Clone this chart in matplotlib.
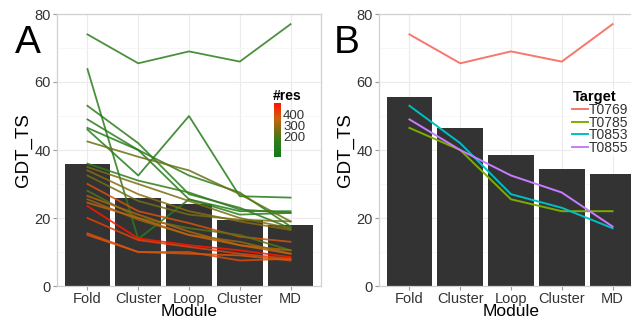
import numpy as np
import matplotlib
matplotlib.use("Agg")
import matplotlib.pyplot as plt
from matplotlib.colors import LinearSegmentedColormap, Normalize
from matplotlib.lines import Line2D

plt.rcParams['font.family'] = ['Liberation Sans', 'DejaVu Sans']

modules = ['Fold', 'Cluster', 'Loop', 'Cluster', 'MD']

# panel A: mean bar + one line per target, coloured by number of residues
bars_a = [36, 26, 24, 19.5, 18]
res_a = [150, 140, 160, 120, 110, 130, 240, 170, 260, 280,
         250, 390, 210, 330, 290, 350, 490, 420, 400, 380]
gdt_a = [
    [74, 65.5, 69, 66, 77],
    [53, 42, 27, 23, 17],
    [49, 40, 32.5, 27.5, 17.5],
    [46.5, 40, 25.5, 22, 22],
    [46, 32.5, 50, 26.4, 26],
    [63.8, 13.8, 25.5, 21, 21.5],
    [42.5, 38, 34, 27, 19],
    [36, 31, 27.5, 22.5, 21.5],
    [35, 30, 25, 20, 17],
    [34, 27, 22, 19, 16.5],
    [32.5, 25, 21, 19.5, 19],
    [30, 22, 18.5, 14.5, 13],
    [28, 20, 17, 15, 10.5],
    [26.5, 21, 16, 12, 10.5],
    [25.5, 19.5, 15, 13, 9.5],
    [24.5, 20, 15, 12, 9.5],
    [23.5, 14, 12, 10.5, 8.5],
    [20, 13.5, 11.5, 9.5, 8],
    [15.5, 10, 10, 7.5, 8],
    [15, 10, 9.5, 9, 7.5],
]

# panel B: four targets
bars_b = [55.5, 46.5, 38.5, 34.5, 33]
targets = ['T0769', 'T0785', 'T0853', 'T0855']
gdt_b = [
    [74, 65.5, 69, 66, 77],
    [46.5, 40, 25.5, 22, 22],
    [53, 42, 27, 23, 17],
    [49, 40, 32.5, 27.5, 17.5],
]
target_colors = ['#F8766D', '#7CAE00', '#00BFC4', '#C77CFF']

cmap = LinearSegmentedColormap.from_list(
    'res', [(0.0, '#137a1a'), (0.3, '#2f7d1c'), (0.5, '#7a6d14'),
            (0.72, '#d0600e'), (1.0, '#ff1400')])
norm = Normalize(vmin=20, vmax=500)

W, H = 631, 321
fig = plt.figure(figsize=(W / 100, H / 100), dpi=100)


def style_panel(ax):
    x = np.arange(len(modules))
    ax.set_xlim(-0.6, 4.6)
    ax.set_ylim(0, 80)
    ax.set_xticks(x)
    ax.set_xticklabels(modules)
    ax.set_yticks([0, 20, 40, 60, 80])
    ax.set_yticks([10, 30, 50, 70], minor=True)
    ax.tick_params(axis='y', which='minor', length=0)
    ax.tick_params(which='major', length=3, color='#999999', labelsize=10.5,
                   labelcolor='#333333', pad=1.5)
    ax.tick_params(axis='x', pad=1)
    ax.grid(True, which='major', color='#ebebeb', lw=0.8)
    ax.grid(True, which='minor', axis='y', color='#f4f4f4', lw=0.5)
    ax.set_axisbelow(True)
    for s in ax.spines.values():
        s.set_color('#d0d0d0')
        s.set_linewidth(0.9)
    ax.set_xlabel('Module', fontsize=12.5, labelpad=-1)
    ax.set_ylabel('GDT_TS', fontsize=13.5, labelpad=2)


axA = fig.add_axes([57 / W, 1 - 286 / H, 264 / W, 272 / H])
style_panel(axA)
xs = np.arange(len(modules))
axA.bar(xs, bars_a, width=0.9, color='#333333', zorder=2)
for r, vals in zip(res_a, gdt_a):
    axA.plot(xs, vals, color=cmap(norm(r)), lw=1.3, alpha=0.85, zorder=3)

axB = fig.add_axes([379 / W, 1 - 286 / H, 264 / W, 272 / H])
style_panel(axB)
axB.bar(xs, bars_b, width=0.9, color='#333333', zorder=2)
for vals, c in zip(gdt_b, target_colors):
    axB.plot(xs, vals, color=c, lw=1.4, zorder=3)

# colour bar for #res
cax = fig.add_axes([274 / W, 1 - 157 / H, 7 / W, 54 / H])
grad = np.linspace(norm.vmin, norm.vmax, 200).reshape(-1, 1)
cax.imshow(grad, cmap=cmap, norm=norm, aspect='auto', origin='lower',
           extent=[0, 1, norm.vmin, norm.vmax])
cax.set_xticks([])
cax.yaxis.tick_right()
cax.set_yticks([200, 300, 400])
cax.tick_params(axis='y', length=0, labelsize=9.5, labelcolor='#333333', pad=1.5)
for s in cax.spines.values():
    s.set_visible(False)
fig.text(273 / W, 1 - 96 / H, '#res', fontsize=10, fontweight='bold', va='center')

# legend for targets
handles = [Line2D([], [], color=c, lw=1.4) for c in target_colors]
leg = axB.legend(handles, targets, title='Target', loc='upper left',
                 bbox_to_anchor=(571 / W, 1 - 89 / H), bbox_transform=fig.transFigure,
                 fontsize=10, handlelength=1.1, handletextpad=0.1, labelspacing=-0.1,
                 borderpad=0.1, borderaxespad=0, frameon=True, alignment='left',
                 title_fontproperties={'weight': 'bold', 'size': 10.5})
leg.get_frame().set_edgecolor('none')
leg.get_frame().set_facecolor('white')
for t in leg.get_texts():
    t.set_color('#333333')

fig.text(15 / W, 1 - 53 / H, 'A', fontsize=28, va='baseline')
fig.text(334 / W, 1 - 53 / H, 'B', fontsize=28, va='baseline')

fig.savefig('out.png', dpi=100)
